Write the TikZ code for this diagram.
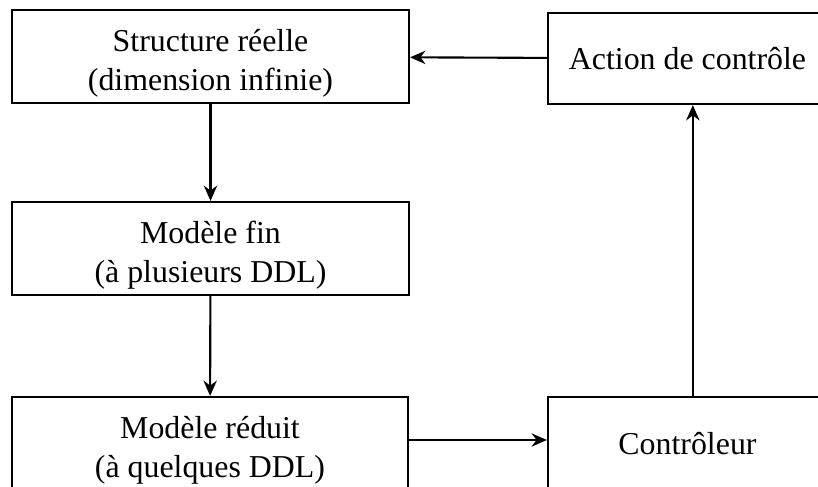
\documentclass[tikz,border=0pt]{standalone}
\usepackage{fontspec}
\setmainfont{Liberation Serif}
\usetikzlibrary{arrows.meta}

\newcommand{\haut}{\rule{0pt}{15.5pt}}
\tikzset{
    bloc/.style={draw, line width=.9pt, align=center, inner sep=0pt,
        font=\fontsize{13.6}{16.8}\selectfont},
    fleche/.style={line width=.9pt, -{Stealth[length=2.3mm,width=2mm]}}
}

\begin{document}
\begin{tikzpicture}[x=0.015cm,y=-0.015cm]
    \clip (0,0) rectangle (818,487);
    \node[bloc, minimum width=5.955cm, minimum height=1.395cm] (struct) at (210.5,56.5) {\haut Structure r\'eelle\\(dimension infinie)};
    \node[bloc, minimum width=4.185cm, minimum height=1.365cm] (action) at (687.5,58.5) {Action de contr\^ole};
    \node[bloc, minimum width=5.955cm, minimum height=1.395cm] (fin) at (210.5,248.5) {\haut Mod\`ele fin\\(\`a plusieurs DDL)};
    \node[bloc, minimum width=5.94cm, minimum height=1.395cm] (reduit) at (210,443.5) {\haut Mod\`ele r\'eduit\\(\`a quelques DDL)};
    \node[bloc, minimum width=4.185cm, minimum height=1.395cm] (ctrl) at (687.5,443.5) {Contr\^oleur};
    % liaisons
    \draw[fleche] (struct) -- (fin);
    \draw[fleche] (fin) -- (reduit);
    \draw[fleche] (reduit.east |- 0,440) -- (ctrl.west |- 0,440);
    \draw[fleche] ([xshift=0.08cm]ctrl.north) -- ([xshift=0.08cm]action.south);
    \draw[fleche] (action) -- (struct);
\end{tikzpicture}
\end{document}
